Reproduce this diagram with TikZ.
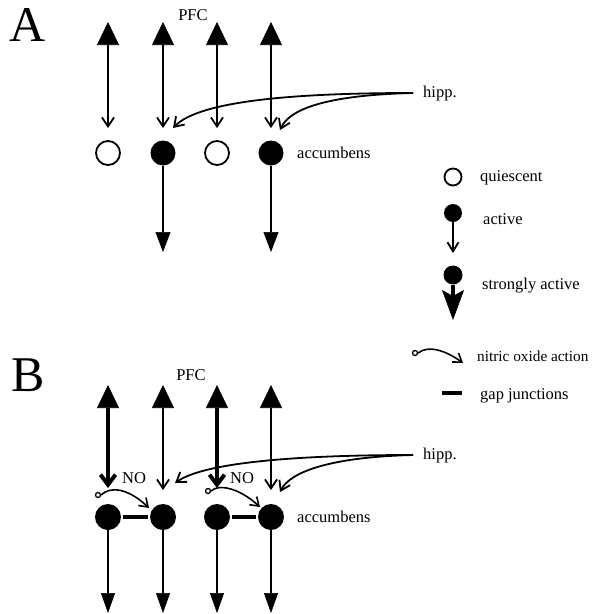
\documentclass[tikz,border=0pt]{standalone}
\usepackage{fontspec}
\setmainfont{Liberation Serif}
\usetikzlibrary{arrows.meta}
\begin{document}
\begin{tikzpicture}[x=1pt,y=-1pt,
  lbl/.style={font=\fontsize{16.5}{19}\selectfont, inner sep=0pt, anchor=base west},
  ctr/.style={font=\fontsize{16.5}{19}\selectfont, inner sep=0pt, anchor=base},
  panel/.style={font=\fontsize{50}{60}\selectfont, inner sep=0pt},
  qcell/.style={circle, draw, line width=1.8pt, fill=white, minimum size=24pt, inner sep=0pt},
  acell/.style={circle, fill=black, minimum size=25pt, inner sep=0pt},
  thinln/.style={line width=1.8pt},
  proj/.style={thinln, {Triangle[length=23pt,width=22pt,line width=0.6pt]}-{Straight Barb[length=9pt,width=12pt]}},
  strongproj/.style={line width=4pt, {Triangle[length=23pt,width=22pt,line width=0.6pt]}-{Straight Barb[length=10pt,width=15pt]}},
  outA/.style={thinln, -{Triangle[length=20pt,width=15pt,line width=0.6pt]}},
  hippcurve/.style={thinln, -{Straight Barb[length=9pt,width=12pt]}},
  gapbar/.style={line width=4.5pt},
  nodot/.style={circle, draw, line width=1.3pt, fill=white, minimum size=5pt, inner sep=0pt},
  noarrow/.style={line width=1.6pt, -{Straight Barb[length=8pt,width=11pt]}}
]
\useasboundingbox (0,0) rectangle (596,614);

% ---------------- Panel A ----------------
\node[panel] (labA) at (28,25) {A};
\node[ctr] (pfcA) at (193,20) {PFC};
\node[lbl] (hippA) at (423,97) {hipp.};
\node[lbl] (accA) at (297,158) {accumbens};

\node[qcell] (a1) at (108,153) {};
\node[acell] (a2) at (163,153) {};
\node[qcell] (a3) at (217,153) {};
\node[acell] (a4) at (271,153) {};

\coordinate (pa1) at (108,22); \coordinate (ea1) at (108,128);
\coordinate (pa2) at (163,22); \coordinate (ea2) at (163,128);
\coordinate (pa3) at (217,22); \coordinate (ea3) at (217,128);
\coordinate (pa4) at (271,22); \coordinate (ea4) at (271,128);
\draw[proj] (pa1) -- (ea1);
\draw[proj] (pa2) -- (ea2);
\draw[proj] (pa3) -- (ea3);
\draw[proj] (pa4) -- (ea4);

\coordinate (oa2) at (163,252);
\coordinate (oa4) at (271,252);
\draw[outA] (a2.south) -- (oa2);
\draw[outA] (a4.south) -- (oa4);

\coordinate (hA) at (413,93);
\coordinate (tA1) at (173,128);
\coordinate (tA2) at (280,130);
\draw[hippcurve] (hA) .. controls (300,93) and (200,100) .. (tA1);
\draw[hippcurve] (hA) .. controls (330,95) and (290,108) .. (tA2);

% ---------------- Legend ----------------
\node[qcell, minimum size=17pt] (lq) at (453,177) {};
\node[lbl] (lqt) at (480,181) {quiescent};

\node[acell, minimum size=18pt] (la) at (453,213) {};
\coordinate (lat) at (453,253);
\draw[thinln, -{Straight Barb[length=9pt,width=11pt]}] (la.south) -- (lat);
\node[lbl] (lat2) at (483,224) {active};

\node[acell, minimum size=19pt] (ls) at (453,275) {};
\coordinate (lst) at (453,320);
\draw[line width=4pt, -{Stealth[length=30pt,width=22pt,inset=6pt,line width=0.6pt]}] (ls.south) -- (lst);
\node[lbl] (lst2) at (482,289) {strongly active};

\node[nodot] (lno) at (415,353) {};
\coordinate (lnot) at (463,363);
\draw[noarrow] (lno.east) .. controls (428,345) and (445,350) .. (lnot);
\node[lbl, font=\fontsize{15.3}{18}\selectfont] (lnot2) at (477,361) {nitric oxide action};

\coordinate (lg1) at (442,393);
\coordinate (lg2) at (462,393);
\draw[gapbar] (lg1) -- (lg2);
\node[lbl] (lgt) at (480,399) {gap junctions};

% ---------------- Panel B ----------------
\node[panel] (labB) at (28,375) {B};
\node[ctr] (pfcB) at (191,380) {PFC};
\node[lbl] (hippB) at (423,459) {hipp.};
\node[lbl] (accB) at (297,522) {accumbens};

\node[acell, minimum size=26pt] (b1) at (108,517) {};
\node[acell, minimum size=26pt] (b2) at (163,517) {};
\node[acell, minimum size=26pt] (b3) at (217,517) {};
\node[acell, minimum size=26pt] (b4) at (271,517) {};

\coordinate (pb1) at (108,385); \coordinate (eb1) at (108,488);
\coordinate (pb2) at (163,385); \coordinate (eb2) at (163,490);
\coordinate (pb3) at (217,385); \coordinate (eb3) at (217,488);
\coordinate (pb4) at (271,385); \coordinate (eb4) at (271,490);
\draw[strongproj] (pb1) -- (eb1);
\draw[proj] (pb2) -- (eb2);
\draw[strongproj] (pb3) -- (eb3);
\draw[proj] (pb4) -- (eb4);

\coordinate (ob1) at (108,613);
\coordinate (ob2) at (163,613);
\coordinate (ob3) at (217,613);
\coordinate (ob4) at (271,613);
\draw[outA, -{Triangle[length=20pt,width=14pt,line width=0.6pt]}] (b1.south) -- (ob1);
\draw[outA, -{Triangle[length=20pt,width=14pt,line width=0.6pt]}] (b2.south) -- (ob2);
\draw[outA, -{Triangle[length=20pt,width=14pt,line width=0.6pt]}] (b3.south) -- (ob3);
\draw[outA, -{Triangle[length=20pt,width=14pt,line width=0.6pt]}] (b4.south) -- (ob4);

\draw[gapbar, shorten <=2pt, shorten >=2pt] (b1.east) -- (b2.west);
\draw[gapbar, shorten <=2pt, shorten >=2pt] (b3.east) -- (b4.west);

\node[nodot] (no1) at (98,495) {};
\coordinate (not1) at (149,508);
\draw[noarrow] (no1.east) .. controls (110,486) and (128,488) .. (not1);
\node[lbl] (nol1) at (122,483) {NO};

\node[nodot] (no2) at (208,491) {};
\coordinate (not2) at (260,507);
\draw[noarrow] (no2.east) .. controls (218,484) and (238,487) .. (not2);
\node[lbl] (nol2) at (230,483) {NO};

\coordinate (hB) at (413,455);
\coordinate (tB1) at (175,483);
\coordinate (tB2) at (280,492);
\draw[hippcurve] (hB) .. controls (300,455) and (205,462) .. (tB1);
\draw[hippcurve] (hB) .. controls (330,457) and (290,472) .. (tB2);
\end{tikzpicture}
\end{document}
